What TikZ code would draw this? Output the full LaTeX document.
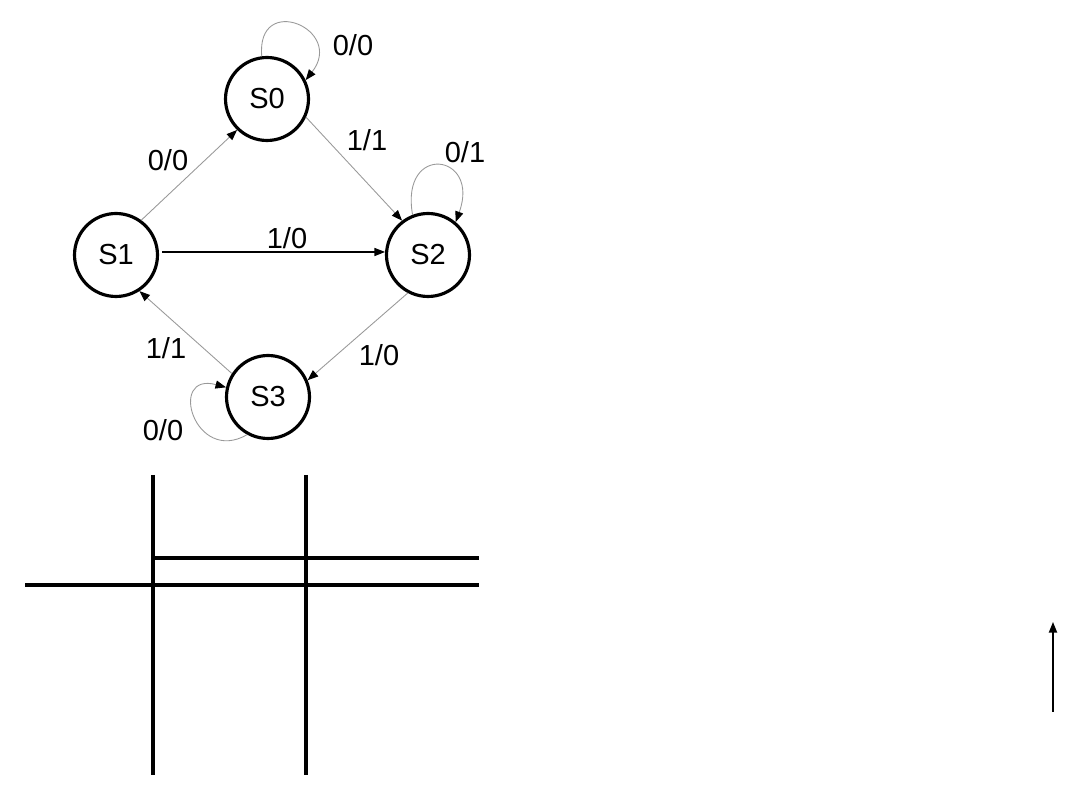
\documentclass[tikz,border=0pt]{standalone}
\usepackage{fontspec}
\setmainfont{Liberation Sans}
\usetikzlibrary{arrows.meta, positioning}

\begin{document}
\begin{tikzpicture}[
  x=0.02cm, y=0.02cm,
  state/.style={circle, draw=black, line width=1.8pt, minimum size=1.66cm,
                inner sep=0pt, font=\fontsize{16.5}{20}\selectfont},
  lbl/.style={inner sep=0pt, font=\fontsize{16.5}{20}\selectfont},
  trans/.style={draw=black!40, line width=0.5pt,
                -{Triangle[length=6pt, width=4.6pt, color=black]}},
  mainarrow/.style={draw=black, line width=0.6pt,
                -{Triangle[length=6pt, width=4.6pt]}},
  wire/.style={line width=2.1pt},
  uparrow/.style={line width=0.9pt, -{Triangle[length=6pt, width=4.6pt]}}
]
\useasboundingbox (0,0) rectangle (1080,-810);

% states
\node[state] (s1) at (116,-255) {S1};
\node[state] (s0) at (267,-99)  {S0};
\node[state] (s2) at (428,-255) {S2};
\node[state] (s3) at (268,-397) {S3};

% transitions
\draw[trans] (s1.54)  -- (s0.226);
\draw[trans] (s0.-25) -- (s2.127);
\draw[mainarrow, shorten <=2pt] (s1.4) -- (s2.176);
\draw[trans] (s2.242) -- (s3.23);
\draw[trans] (s3.147) -- (s1.-57);
\draw[trans] (s0.97)  to[out=95, in=52, looseness=3.3]  (s0.26);
\draw[trans] (s2.111) to[out=100, in=70, looseness=4.3] (s2.50);
\draw[trans] (s3.241) to[out=210, in=165, looseness=3] (s3.167);

% labels
\node[lbl] (l00a) at (353,-45)  {0/0};
\node[lbl] (l10a) at (168,-160) {0/0};
\node[lbl] (l11a) at (367,-140) {1/1};
\node[lbl] (l01)  at (465,-152) {0/1};
\node[lbl] (l10b) at (287,-238) {1/0};
\node[lbl] (l10c) at (379,-355) {1/0};
\node[lbl] (l11b) at (166,-348) {1/1};
\node[lbl] (l00b) at (163,-430) {0/0};

% grid lines
\draw[wire] (153,-475) -- (153,-775);
\draw[wire] (306,-475) -- (306,-775);
\draw[wire] (153,-558) -- (479,-558);
\draw[wire] (25,-585)  -- (479,-585);

% arrow on the right
\coordinate (tail) at (1053,-712);
\coordinate (head) at (1053,-622);
\draw[uparrow] (tail) -- (head);
\end{tikzpicture}
\end{document}
